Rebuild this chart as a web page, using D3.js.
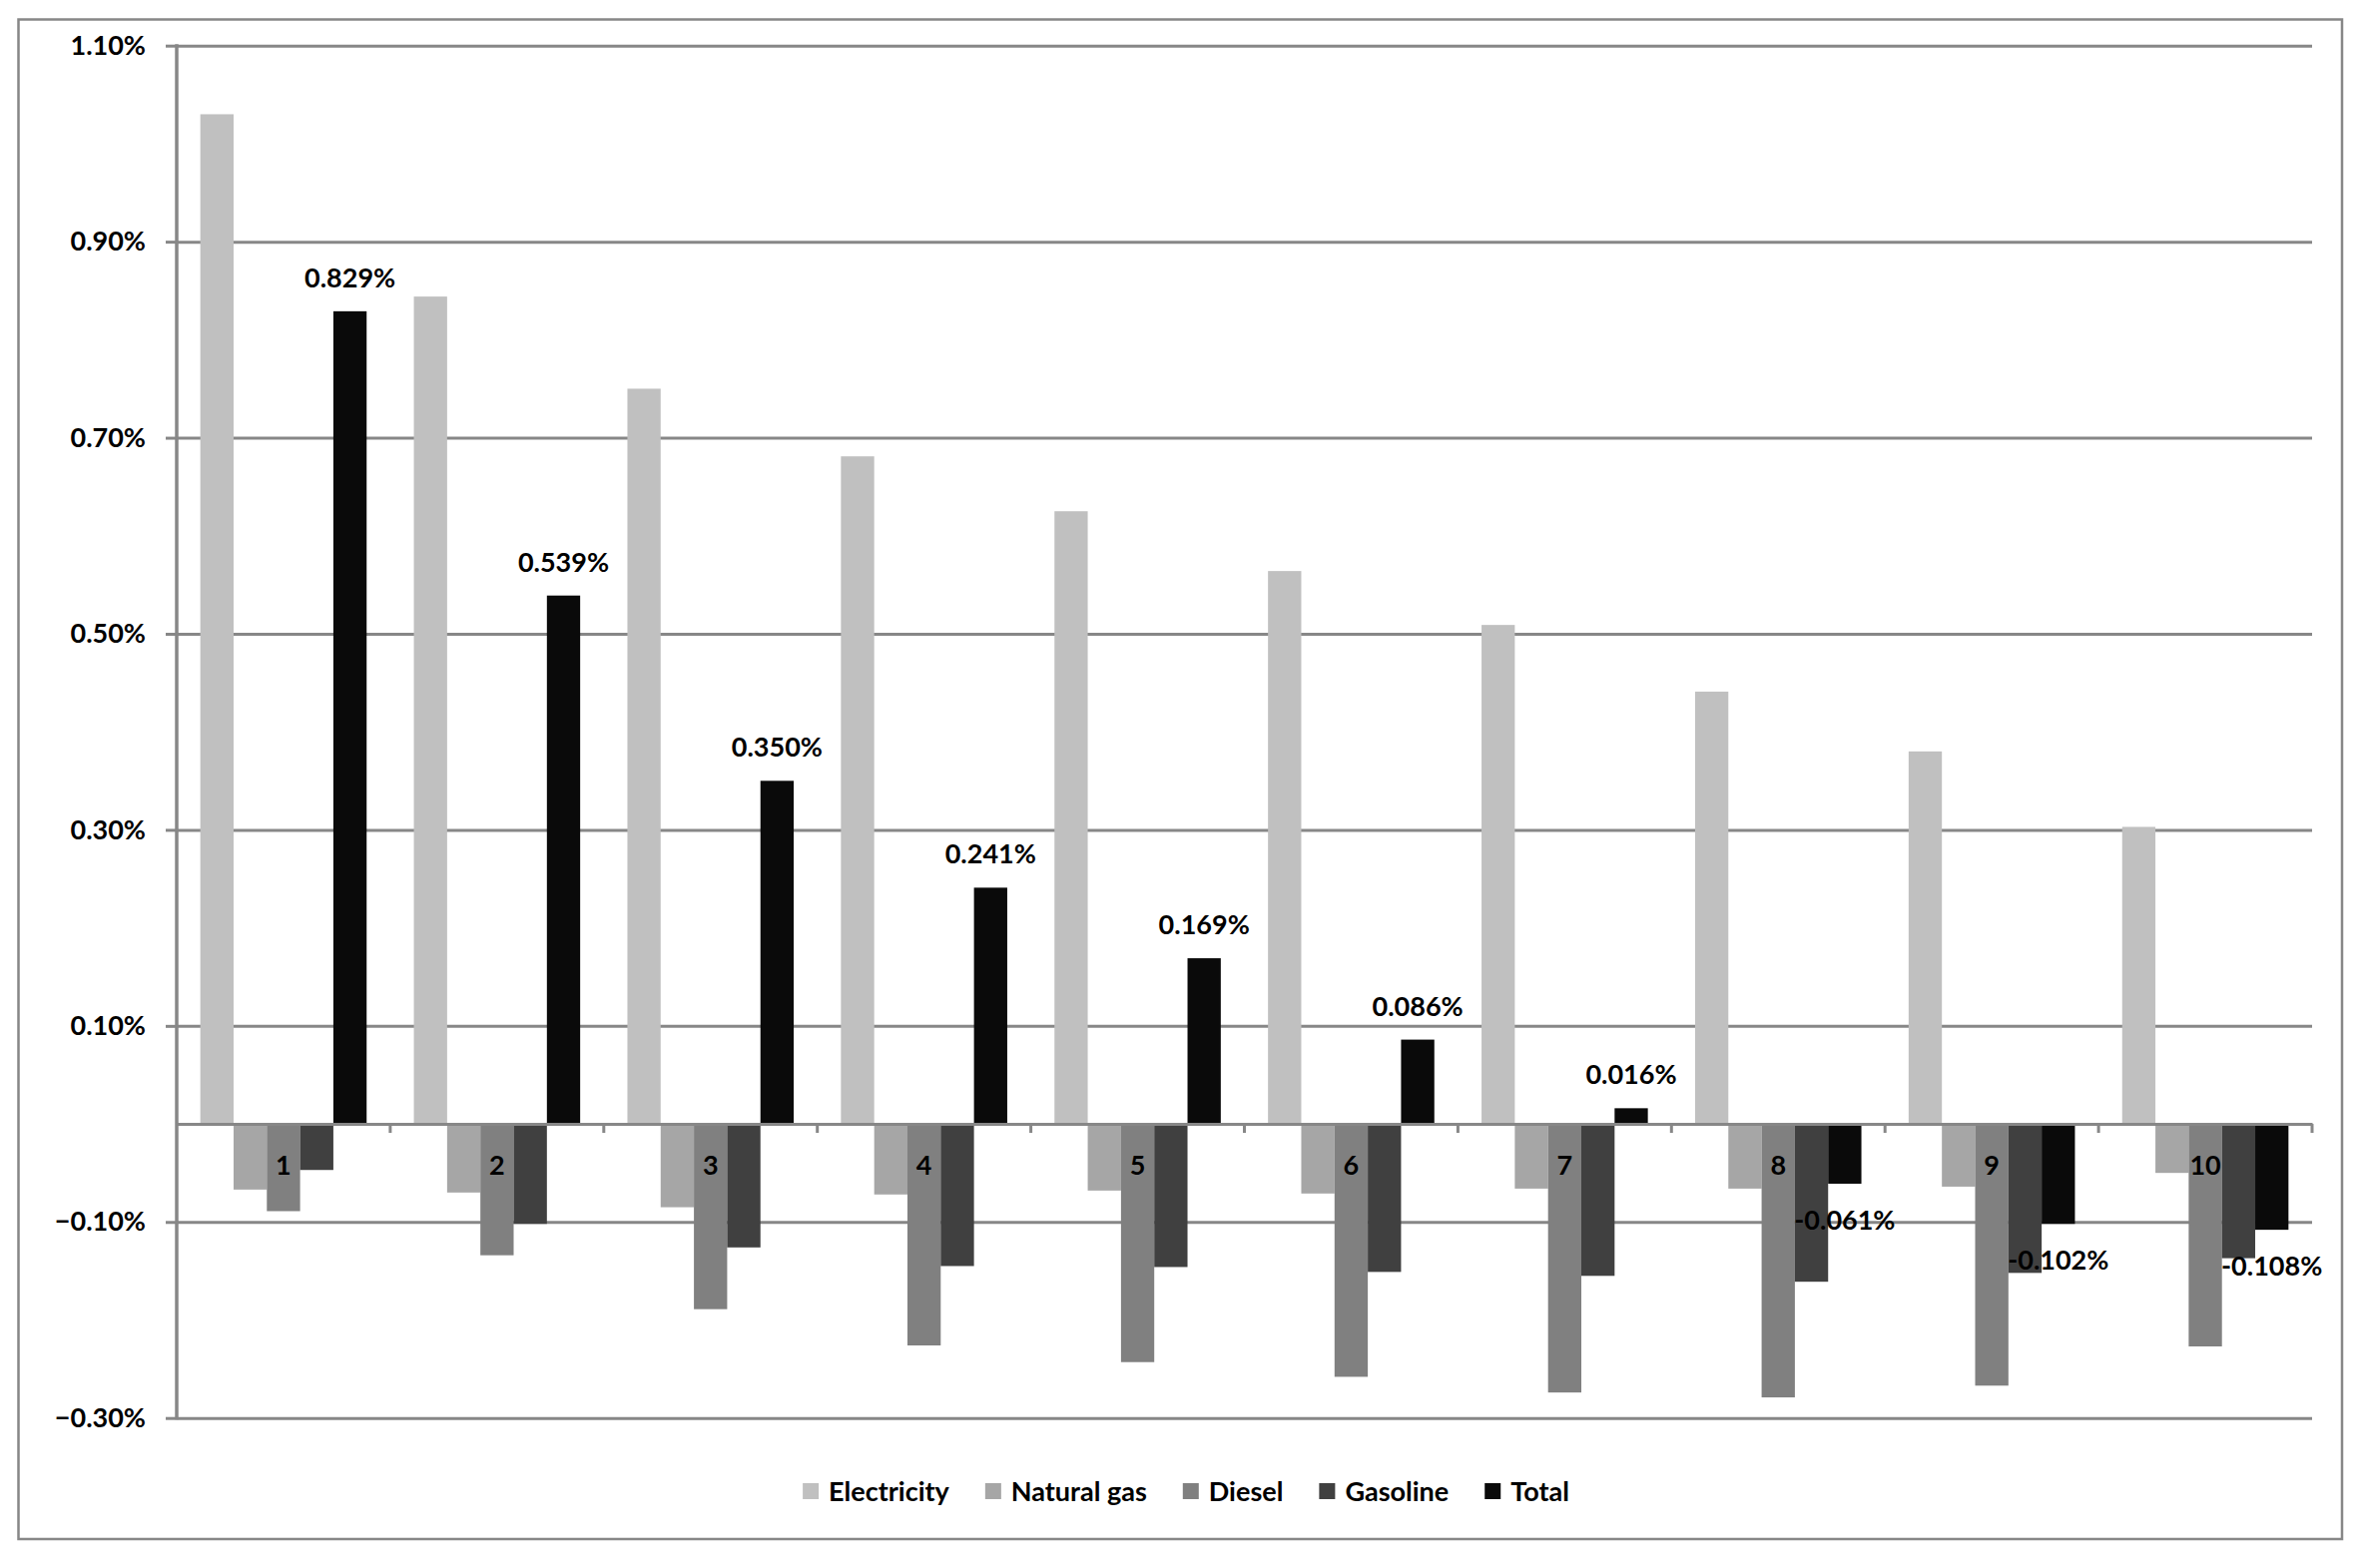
<!DOCTYPE html>
<html>
<head>
<meta charset="utf-8">
<script src="https://cdn.jsdelivr.net/npm/d3@7"></script>
<style>
  html, body { margin: 0; padding: 0; background: #ffffff; }
  svg { display: block; }
  text { font-family: Lato, "Open Sans", sans-serif; font-weight: 700; fill: #000; }
</style>
</head>
<body>
<svg id="chart" width="2367" height="1571"></svg>
<script>
const categories = ["1", "2", "3", "4", "5", "6", "7", "8", "9", "10"];
const seriesNames = ["Electricity", "Natural gas", "Diesel", "Gasoline", "Total"];
const electricity = [1.030, 0.844, 0.750, 0.681, 0.625, 0.564, 0.509, 0.441, 0.380, 0.303];
const naturalGas = [-0.067, -0.070, -0.085, -0.072, -0.068, -0.071, -0.066, -0.066, -0.064, -0.050];
const diesel = [-0.089, -0.134, -0.189, -0.226, -0.243, -0.258, -0.274, -0.279, -0.267, -0.227];
const gasoline = [-0.047, -0.102, -0.126, -0.145, -0.146, -0.151, -0.155, -0.161, -0.152, -0.137];
const total = [0.829, 0.539, 0.350, 0.241, 0.169, 0.086, 0.016, -0.061, -0.102, -0.108];
const seriesColors = ["#c0c0c0", "#a6a6a6", "#808080", "#404040", "#0a0a0a"];
const yTickValues = [1.10, 0.90, 0.70, 0.50, 0.30, 0.10, -0.10, -0.30];

const seriesValues = [electricity, naturalGas, diesel, gasoline, total];
const gridColor = "#878787";
const fontSize = "27px";

const svg = d3.select("#chart");

// outer border
svg.append("rect")
  .attr("x", 18.5).attr("y", 19.5)
  .attr("width", 2346 - 18.5).attr("height", 1542 - 19.5)
  .attr("fill", "none").attr("stroke", gridColor).attr("stroke-width", 2.5);

const plot = { left: 177, right: 2316, top: 45.7, bottom: 1420.7 };

const y = d3.scaleLinear().domain([-0.30, 1.10]).range([plot.bottom, plot.top]);
const x0 = d3.scaleBand().domain(categories).range([plot.left, plot.right]).paddingInner(0).paddingOuter(0);
const x1 = d3.scaleBand().domain(seriesNames).range([0, x0.bandwidth()]).paddingInner(0).paddingOuter(0.71);

// gridlines + y tick labels via axis
const yAxis = d3.axisLeft(y)
  .tickValues(yTickValues)
  .tickSize(-(plot.right - plot.left))
  .tickPadding(20)
  .tickFormat(d => d3.format(".2f")(d) + "%");

const gy = svg.append("g")
  .attr("transform", `translate(${plot.left},0)`)
  .call(yAxis);
gy.select(".domain").remove();
gy.selectAll(".tick line").attr("stroke", gridColor).attr("stroke-width", 3);
// outward tick stubs
gy.selectAll(".tick").append("line")
  .attr("x1", -11).attr("x2", 0)
  .attr("stroke", gridColor).attr("stroke-width", 3);
gy.selectAll(".tick text")
  .attr("x", -31)
  .style("font-family", "Lato, 'Open Sans', sans-serif")
  .style("font-weight", "700")
  .style("font-size", fontSize)
  .attr("fill", "#000");

// bars
const barsG = svg.append("g");
seriesNames.forEach((name, si) => {
  barsG.selectAll(null)
    .data(seriesValues[si].map((v, i) => ({ cat: categories[i], v })))
    .enter().append("rect")
    .attr("x", d => x0(d.cat) + x1(name))
    .attr("width", x1.bandwidth())
    .attr("y", d => Math.min(y(d.v), y(0)))
    .attr("height", d => Math.abs(y(d.v) - y(0)))
    .attr("fill", seriesColors[si]);
});

// y axis line
svg.append("line")
  .attr("x1", plot.left).attr("x2", plot.left)
  .attr("y1", plot.top - 1.5).attr("y2", plot.bottom + 1.5)
  .attr("stroke", gridColor).attr("stroke-width", 3.5);

// x axis (zero line) with category boundary ticks
const xAxis = d3.axisBottom(x0).tickSize(0).tickFormat("");
const gx = svg.append("g")
  .attr("transform", `translate(0,${y(0)})`)
  .call(xAxis);
gx.selectAll(".tick").remove();
gx.select(".domain").attr("stroke", gridColor).attr("stroke-width", 3);
gx.selectAll(".bound")
  .data(categories)
  .enter().append("line")
  .attr("x1", d => x0(d) + x0.bandwidth())
  .attr("x2", d => x0(d) + x0.bandwidth())
  .attr("y1", 0).attr("y2", 9)
  .attr("stroke", gridColor).attr("stroke-width", 3);

// category labels
svg.append("g").selectAll("text")
  .data(categories)
  .enter().append("text")
  .attr("x", d => x0(d) + x0.bandwidth() / 2)
  .attr("y", y(0) + 51)
  .attr("text-anchor", "middle")
  .style("font-size", fontSize)
  .text(d => d);

// total data labels
svg.append("g").selectAll("text")
  .data(total.map((v, i) => ({ cat: categories[i], v })))
  .enter().append("text")
  .attr("x", d => x0(d.cat) + x1("Total") + x1.bandwidth() / 2)
  .attr("y", d => d.v >= 0 ? y(d.v) - 24 : y(d.v) + 46)
  .attr("text-anchor", "middle")
  .style("font-size", fontSize)
  .text(d => d3.format(".3f")(d.v).replace("−", "-") + "%");

// legend
const legend = svg.append("g");
const swatch = 16, swGap = 10, itemGap = 36;
let lx = 0;
seriesNames.forEach((name, i) => {
  const g = legend.append("g");
  g.append("rect").attr("x", 0).attr("y", -8).attr("width", swatch).attr("height", swatch)
    .attr("fill", seriesColors[i]);
  const t = g.append("text").attr("x", swatch + swGap).attr("y", 10)
    .style("font-size", fontSize).text(name);
  const w = t.node().getComputedTextLength();
  g.attr("transform", `translate(${lx},0)`);
  lx += swatch + swGap + w + itemGap;
});
const legendWidth = lx - itemGap;
legend.attr("transform", `translate(${1188 - legendWidth / 2},1494)`);
</script>
</body>
</html>
